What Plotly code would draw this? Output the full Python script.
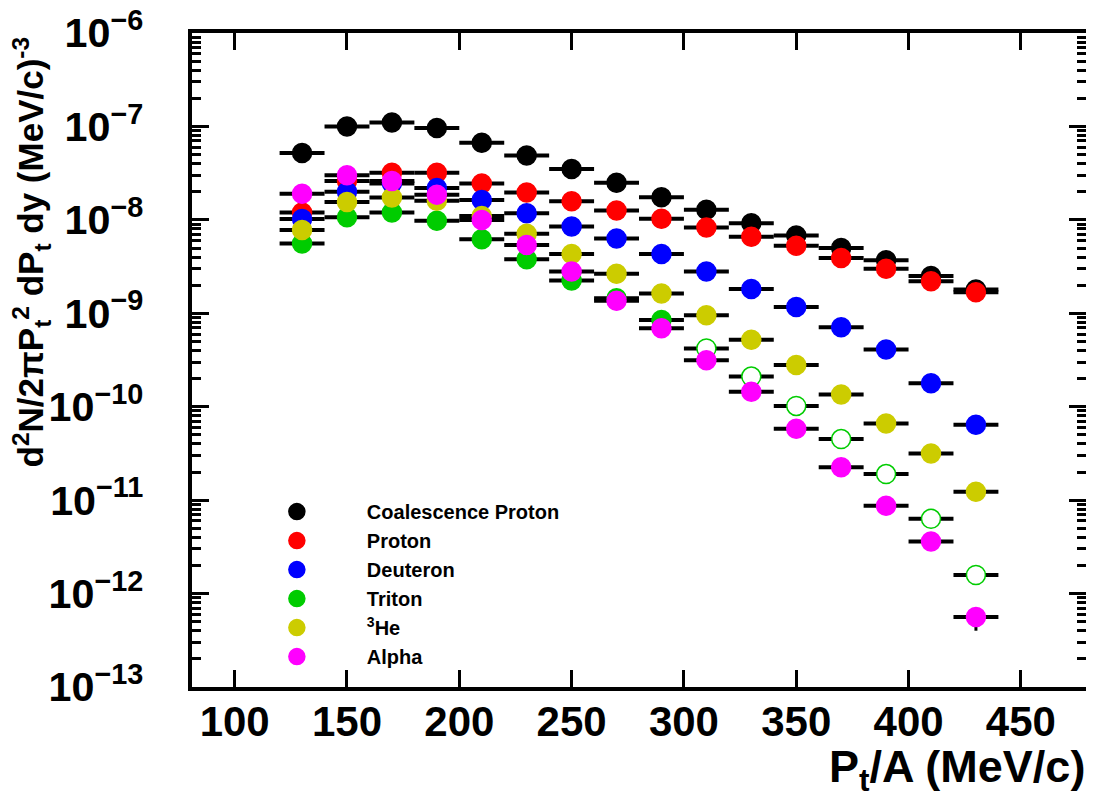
import plotly.graph_objects as go

# ---------------- data ----------------
pt_per_a = [130, 150, 170, 190, 210, 230, 250, 270, 290, 310, 330, 350, 370, 390, 410, 430]
bin_half_width = [10] * 16

coal_proton = [5.2e-8, 1.0e-7, 1.1e-7, 9.6e-8, 6.7e-8, 4.9e-8, 3.5e-8, 2.5e-8,
               1.75e-8, 1.28e-8, 9.2e-9, 6.8e-9, 5.0e-9, 3.7e-9, 2.5e-9, 1.8e-9]
proton = [1.2e-8, 2.6e-8, 3.2e-8, 3.2e-8, 2.45e-8, 1.96e-8, 1.58e-8, 1.26e-8,
          1.03e-8, 8.3e-9, 6.6e-9, 5.3e-9, 3.9e-9, 3.0e-9, 2.2e-9, 1.68e-9]
deuteron = [1.02e-8, 2.0e-8, 2.45e-8, 2.2e-8, 1.63e-8, 1.18e-8, 8.5e-9, 6.3e-9,
            4.3e-9, 2.8e-9, 1.82e-9, 1.17e-9, 7.1e-10, 4.1e-10, 1.78e-10, 6.4e-11]
triton = [5.6e-9, 1.07e-8, 1.2e-8, 9.8e-9, 6.2e-9, 3.8e-9, 2.24e-9, 1.45e-9,
          8.5e-10, 4.2e-10, 2.1e-10, 1.02e-10, 4.5e-11, 1.9e-11, 6.3e-12, 1.58e-12]
helium3 = [7.8e-9, 1.55e-8, 1.74e-8, 1.6e-8, 1.1e-8, 7.1e-9, 4.3e-9, 2.65e-9,
           1.63e-9, 9.5e-10, 5.2e-10, 2.8e-10, 1.35e-10, 6.6e-11, 3.15e-11, 1.23e-11]
alpha = [1.9e-8, 3.0e-8, 2.6e-8, 1.86e-8, 1.0e-8, 5.4e-9, 2.8e-9, 1.36e-9,
         6.9e-10, 3.15e-10, 1.45e-10, 5.8e-11, 2.25e-11, 8.7e-12, 3.6e-12, 5.6e-13]
alpha_err_low = [0] * 15 + [1.6e-13]

series_names = ["Coalescence Proton", "Proton", "Deuteron", "Triton", "<sup>3</sup>He", "Alpha"]
series_values = [coal_proton, proton, deuteron, triton, helium3, alpha]
series_colors = ["#000000", "#ff0000", "#0000ff", "#00cc00", "#cccc00", "#ff00ff"]

x_ticks = [100, 150, 200, 250, 300, 350, 400, 450]
triton_open_above = 300  # triton points drawn as open circles beyond this Pt/A

FONT = "Liberation Sans, Arial, sans-serif"

fig = go.Figure()
for name, vals, col in zip(series_names, series_values, series_colors):
    mcolor = col
    if name == "Triton":
        mcolor = [col if x < triton_open_above else "white" for x in pt_per_a]
    err_y = None
    if name == "Alpha":
        err_y = dict(type="data", symmetric=False, array=[0] * len(vals),
                     arrayminus=alpha_err_low, color="black", thickness=3, width=0)
    fig.add_trace(go.Scatter(
        x=pt_per_a, y=vals, mode="markers", name=name,
        marker=dict(symbol="circle", size=19, color=mcolor,
                    line=dict(width=1.5, color=col)),
        error_x=dict(type="data", array=bin_half_width, color="black", thickness=4, width=0),
        error_y=err_y,
    ))

# page body has an 8px margin: figure is 8px smaller on each side
fig.update_layout(
    width=1086, height=793,
    margin=dict(l=184, r=8, t=25, b=114),
    paper_bgcolor="white", plot_bgcolor="white",
    font=dict(family=FONT, color="black", weight="bold"),
    showlegend=True,
    legend=dict(
        x=0.039, y=0.298, xanchor="left", yanchor="top",
        bgcolor="rgba(0,0,0,0)", borderwidth=0,
        font=dict(family=FONT, size=20, color="black", weight="bold"),
        itemwidth=130, traceorder="normal",
    ),
)

fig.update_xaxes(
    range=[81, 479], tickvals=x_ticks, ticktext=[str(v) for v in x_ticks],
    showline=True, linewidth=4, linecolor="black", mirror="allticks",
    ticks="inside", ticklen=17, tickwidth=3, tickcolor="black",
    showgrid=False, zeroline=False, automargin=False,
    tickfont=dict(family=FONT, size=42, color="black", weight="bold"),
    ticklabelstandoff=-5, ticklabeloverflow="allow",
)
fig.update_yaxes(
    type="log", range=[-13.0005, -5.9995], dtick=1, exponentformat="power",
    showline=True, linewidth=4, linecolor="black", mirror="allticks",
    ticks="inside", ticklen=17, tickwidth=3, tickcolor="black",
    minor=dict(ticks="inside", ticklen=9, tickwidth=3, tickcolor="black", dtick="D1", showgrid=False),
    showgrid=False, zeroline=False, automargin=False,
    tickfont=dict(family=FONT, size=33, color="black", weight="bold"),
    ticklabelstandoff=38, ticklabeloverflow="allow",
)

# y-axis title, aligned to the top end of the axis
fig.add_annotation(
    text="d<sup>2</sup>N/2πP<sub>t</sub><sup>2</sup> dP<sub>t</sub> dy (MeV/c)<sup>-3</sup>",
    xref="paper", yref="paper", x=0, y=1, xanchor="center", yanchor="top",
    xshift=-161, yshift=-3, textangle=-90, showarrow=False, borderpad=0,
    font=dict(family=FONT, size=35, color="black", weight="bold"),
)

# x-axis title, right aligned
fig.add_annotation(
    text="P<sub>t</sub>/A (MeV/c)", xref="paper", yref="paper", x=1.0, y=0,
    xanchor="right", yanchor="bottom", yshift=-112, showarrow=False, borderpad=0,
    font=dict(family=FONT, size=45, color="black", weight="bold"),
)

fig.write_html("out.html")
